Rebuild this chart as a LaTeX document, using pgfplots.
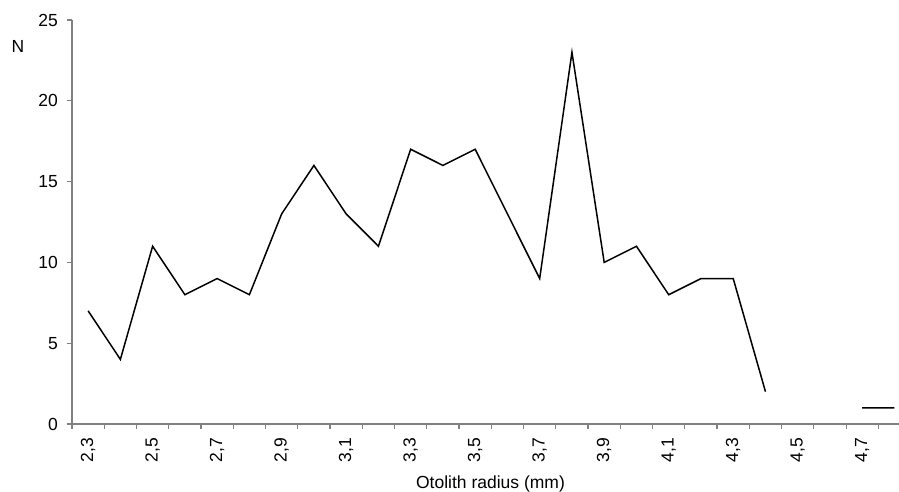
\documentclass[border=0pt]{standalone}
\usepackage{pgfplots}
\pgfplotsset{compat=1.18}
\usepackage{fontspec}
\setmainfont{Liberation Sans}
\begin{document}
\fontsize{17.5}{21}\selectfont
\begin{tikzpicture}
\useasboundingbox (0,0) rectangle (899pt,492pt);
\begin{axis}[
 at={(72pt,68pt)}, anchor=south west,
 scale only axis, width=827pt, height=404pt,
 xmin=-0.5, xmax=25.14, ymin=0, ymax=25,
 axis lines*=left,
 axis line style={draw=gray, line width=1.2pt},
 tick style={draw=gray, line width=1.2pt},
 tick align=outside,
 major tick length=5pt,
 xtick={-0.5,0.5,...,24.5}, xticklabels={,,},
 extra x ticks={0,2,...,24},
 extra x tick labels={{2,3},{2,5},{2,7},{2,9},{3,1},{3,3},{3,5},{3,7},{3,9},{4,1},{4,3},{4,5},{4,7}},
 extra x tick style={major tick length=0pt, tick label style={rotate=90, anchor=east, inner sep=0pt}, xticklabel shift=14pt},
 ytick={0,5,...,25},
 yticklabel style={inner sep=0pt},
 yticklabel shift=9pt,
 /pgf/number format/assume math mode=true,
 ticklabel style={font=\fontsize{17.5}{21}\selectfont},
 unbounded coords=jump,
]
\addplot[black, line width=1.5pt] coordinates {
(0,7) (1,4) (2,11) (3,8) (4,9) (5,8) (6,13) (7,16) (8,13) (9,11)
(10,17) (11,16) (12,17) (13,13) (14,9) (15,23) (16,10) (17,11) (18,8) (19,9)
(20,9) (21,2) (22,nan) (23,nan) (24,1) (25,1)
};
\end{axis}
\node[anchor=base] at (18pt,439pt) {N};
\node[anchor=base] at (490.5pt,3pt) {Otolith radius (mm)};
\end{tikzpicture}
\end{document}
